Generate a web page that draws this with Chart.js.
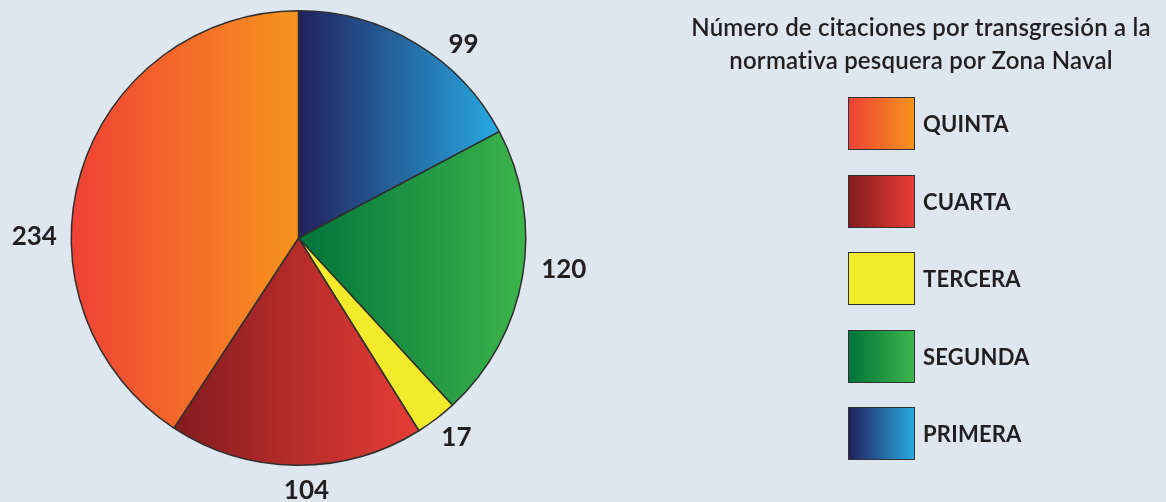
<!DOCTYPE html>
<html>
<head>
<meta charset="utf-8">
<script src="https://cdn.jsdelivr.net/npm/chart.js@4/dist/chart.umd.min.js"></script>
<style>
  body { margin: 0; background: #dee6ef; font-family: "Lato", "Open Sans", sans-serif; color: #231f20; }
  .wrap { position: relative; width: 1166px; height: 502px; overflow: hidden; }
  #grafico { position: absolute; left: 0; top: 0; }
  .titulo { position: absolute; left: 666px; width: 510px; top: 10px; text-align: center;
            font-size: 24px; line-height: 33px; font-weight: 600; letter-spacing: 0.2px; }
  .leyenda { position: absolute; left: 848px; top: 97px; }
  .item { display: flex; align-items: center; height: 53px; margin-bottom: 24.5px; }
  .caja { width: 65px; height: 51px; border: 1px solid #333; box-sizing: content-box; }
  .item span { margin-left: 8px; font-size: 22px; font-weight: 700; letter-spacing: 0.2px; }
</style>
</head>
<body>
<div class="wrap">
  <canvas id="grafico" width="1166" height="502"></canvas>
  <div class="titulo">Número de citaciones por transgresión a la<br>normativa pesquera por Zona Naval</div>
  <div class="leyenda" id="leyenda"></div>
</div>
<script>
const categorias = ["PRIMERA", "SEGUNDA", "TERCERA", "CUARTA", "QUINTA"];
const citaciones = [99, 120, 17, 104, 234];
const colorInicio = ["#22215d", "#00743a", "#f4ea2c", "#831b1e", "#ef4136"];
const colorFin = ["#28aae2", "#3db54b", "#f4ea2c", "#e83d36", "#f7941d"];
const ordenLeyenda = ["QUINTA", "CUARTA", "TERCERA", "SEGUNDA", "PRIMERA"];

// donde va cada numero: angulo (grados desde arriba) y distancia extra al borde
const posEtiquetas = [
  { ang: 40.5, extra: 27 },
  { ang: 96.9, extra: 40 },
  { ang: 141.6, extra: 27 },
  { ang: 178.2, extra: 25 },
  { ang: 270.2, extra: 37 }
];

const total = citaciones.reduce((a, b) => a + b, 0);

function gradiente(context) {
  const chart = context.chart;
  const area = chart.chartArea;
  const i = context.dataIndex;
  if (!area) return colorInicio[i];
  let antes = 0;
  for (let k = 0; k < i; k++) antes += citaciones[k];
  const a0 = antes / total * 2 * Math.PI - Math.PI / 2;
  const a1 = (antes + citaciones[i]) / total * 2 * Math.PI - Math.PI / 2;
  const cx = (area.left + area.right) / 2;
  const r = Math.min(area.width, area.height) / 2;
  const xs = [cx, cx + r * Math.cos(a0), cx + r * Math.cos(a1)];
  if (a0 <= 0 && a1 >= 0) xs.push(cx + r);
  if (a0 <= Math.PI && a1 >= Math.PI) xs.push(cx - r);
  const x0 = Math.min(...xs), x1 = Math.max(...xs);
  const g = chart.ctx.createLinearGradient(x0, 0, x1, 0);
  g.addColorStop(0, colorInicio[i]);
  g.addColorStop(1, colorFin[i]);
  return g;
}

const etiquetas = {
  id: "etiquetas",
  afterDatasetsDraw(chart) {
    const ctx = chart.ctx;
    const arcs = chart.getDatasetMeta(0).data;
    ctx.save();
    ctx.font = "bold 26px Lato, 'Open Sans', sans-serif";
    ctx.fillStyle = "#231f20";
    ctx.textAlign = "center";
    ctx.textBaseline = "middle";
    arcs.forEach((arc, i) => {
      const p = posEtiquetas[i];
      const ang = p.ang * Math.PI / 180;
      const d = arc.outerRadius + p.extra;
      ctx.fillText(String(citaciones[i]), arc.x + d * Math.sin(ang), arc.y - d * Math.cos(ang));
    });
    ctx.restore();
  }
};

new Chart(document.getElementById("grafico"), {
  type: "pie",
  data: {
    labels: categorias,
    datasets: [{
      data: citaciones,
      backgroundColor: gradiente,
      borderColor: "#2f2f2f",
      borderWidth: 1.5
    }]
  },
  options: {
    responsive: false,
    animation: false,
    layout: { padding: { left: 69, right: 638, top: 10, bottom: 36 } },
    plugins: { legend: { display: false }, tooltip: { enabled: false } }
  },
  plugins: [etiquetas]
});

// leyenda a mano con las cajas degradadas
const leyenda = document.getElementById("leyenda");
ordenLeyenda.forEach((nombre) => {
  const i = categorias.indexOf(nombre);
  const item = document.createElement("div");
  item.className = "item";
  item.innerHTML = `<div class="caja" style="background:linear-gradient(to right, ${colorInicio[i]}, ${colorFin[i]})"></div><span>${nombre}</span>`;
  leyenda.appendChild(item);
});
</script>
</body>
</html>
